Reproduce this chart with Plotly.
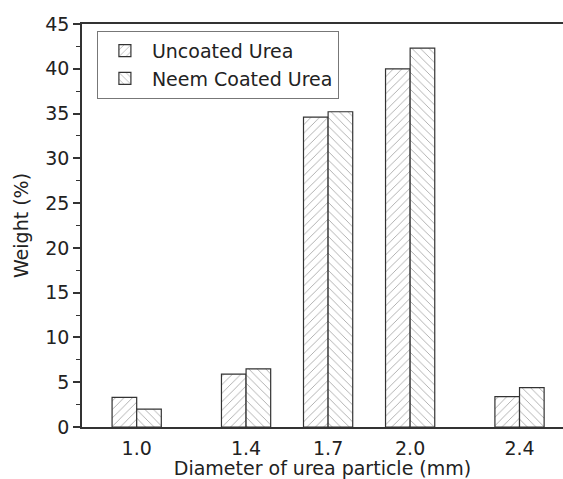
import plotly.graph_objects as go

diameters = [1.0, 1.4, 1.7, 2.0, 2.4]
tick_labels = ["1.0", "1.4", "1.7", "2.0", "2.4"]
uncoated = [3.3, 5.9, 34.6, 40.0, 3.4]
neem = [2.0, 6.5, 35.2, 42.3, 4.4]
y_ticks = [0, 5, 10, 15, 20, 25, 30, 35, 40, 45]

line_col = "#333333"
font_fam = "DejaVu Sans, sans-serif"

fig = go.Figure()
fig.add_trace(go.Bar(
    x=diameters, y=uncoated, name="Uncoated Urea",
    marker=dict(color="white", line=dict(color=line_col, width=1.2),
                pattern=dict(shape="/", fgcolor="#555555", bgcolor="white",
                             size=6, solidity=0.15, fillmode="overlay")),
))
fig.add_trace(go.Bar(
    x=diameters, y=neem, name="Neem Coated Urea",
    marker=dict(color="white", line=dict(color=line_col, width=1.2),
                pattern=dict(shape="\\", fgcolor="#555555", bgcolor="white",
                             size=6, solidity=0.15, fillmode="overlay")),
))

fig.update_layout(
    width=563, height=479,
    margin=dict(l=82, r=0, t=24, b=52),
    paper_bgcolor="white", plot_bgcolor="white",
    barmode="group", bargap=0.4, bargroupgap=0,
    font=dict(family=font_fam, color="#222222"),
    showlegend=True,
    legend=dict(x=0.031, y=0.983, xanchor="left", yanchor="top",
                bgcolor="white", bordercolor="#777777", borderwidth=1,
                font=dict(size=19, family=font_fam, color="#222222"),
                tracegroupgap=0, itemwidth=44),
    xaxis=dict(range=[0.8, 2.559], tickmode="array", tickvals=diameters,
               ticktext=tick_labels, ticks="", showgrid=False, zeroline=False,
               showline=True, linecolor=line_col, linewidth=1.5, mirror=True,
               tickfont=dict(size=19), ticklabelstandoff=3,
               title=dict(text="Diameter of urea particle (mm)",
                          font=dict(size=19), standoff=1)),
    yaxis=dict(range=[0, 45], tickmode="array", tickvals=y_ticks,
               ticks="outside", ticklen=7, tickwidth=1.5, tickcolor=line_col,
               showgrid=False, zeroline=False, showline=True,
               linecolor=line_col, linewidth=1.5, mirror=False,
               tickfont=dict(size=19),
               minor=dict(dtick=2.5, tick0=0, ticks="outside", ticklen=4,
                          tickwidth=1.2, tickcolor=line_col, showgrid=False),
               title=dict(text="Weight (%)", font=dict(size=19), standoff=12)),
)

fig.write_html("out.html")
